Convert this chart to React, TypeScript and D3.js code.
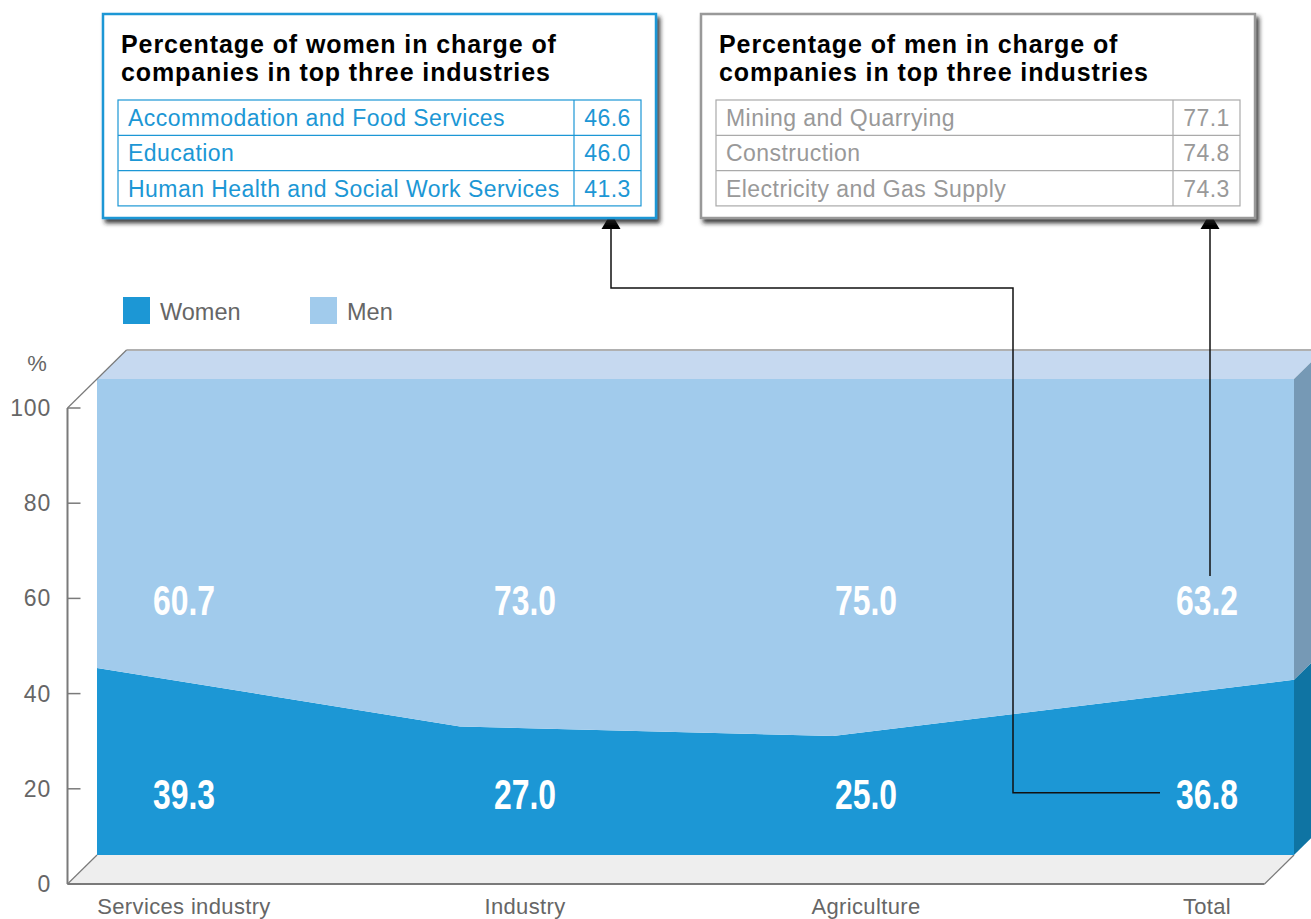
import React from "react";
import * as d3 from "d3";

const categories = ["Services industry", "Industry", "Agriculture", "Total"];
const women = [39.3, 27.0, 25.0, 36.8];
const men = [60.7, 73.0, 75.0, 63.2];
const yTicks = [0, 20, 40, 60, 80, 100];
const seriesNames = ["Women", "Men"];

const womenIndustries = [
  "Accommodation and Food Services",
  "Education",
  "Human Health and Social Work Services",
];
const womenIndustryValues = ["46.6", "46.0", "41.3"];
const menIndustries = [
  "Mining and Quarrying",
  "Construction",
  "Electricity and Gas Supply",
];
const menIndustryValues = ["77.1", "74.8", "74.3"];

const W = 1311;
const H = 919;
const C_WOMEN = "#1c97d5";
const C_MEN = "#a1cbec";
const C_TOP = "#c6d9f0";
const C_SIDE_MEN = "#7699b5";
const C_SIDE_WOMEN = "#0f74a3";
const C_FLOOR = "#eeeeee";
const C_AXIS = "#7a7a7a";
const FONT = "'Liberation Sans', Arial, Helvetica, sans-serif";

function InfoBox({ x, y, w, h, title, names, values, border, text, tableBorder }) {
  const tx = x + 15;
  const tw = w - 30;
  const top = y + 86;
  const rowH = 35.3;
  const sepX = tx + tw - 67;
  return (
    <g>
      <rect x={x} y={y} width={w} height={h} fill="#fff" stroke={border} strokeWidth={2.5} filter="url(#shadow)" />
      {title.map((t, i) => (
        <text key={t} x={tx + 3} y={y + 39 + 28 * i} fontFamily={FONT} fontWeight="bold" fontSize={25} letterSpacing={0.9} fill="#000">
          {t}
        </text>
      ))}
      <rect x={tx} y={top} width={tw} height={rowH * names.length} fill="none" stroke={tableBorder} strokeWidth={1.2} />
      {names.map((n, i) => (
        <g key={n}>
          {i > 0 && (
            <line x1={tx} x2={tx + tw} y1={top + rowH * i} y2={top + rowH * i} stroke={tableBorder} strokeWidth={1.2} />
          )}
          <text x={tx + 10} y={top + rowH * i + 26} fontFamily={FONT} fontSize={23} letterSpacing={0.45} fill={text}>
            {n}
          </text>
          <text x={(sepX + tx + tw) / 2} y={top + rowH * i + 26} textAnchor="middle" fontFamily={FONT} fontSize={23} letterSpacing={0.45} fill={text}>
            {values[i]}
          </text>
        </g>
      ))}
      <line x1={sepX} x2={sepX} y1={top} y2={top + rowH * names.length} stroke={tableBorder} strokeWidth={1.2} />
    </g>
  );
}

function Arrow({ d, tipX, tipY }) {
  return (
    <g>
      <path d={d} fill="none" stroke="#111" strokeWidth={1.5} />
      <polygon points={`${tipX},${tipY} ${tipX - 9.5},${tipY + 16} ${tipX + 9.5},${tipY + 16}`} fill="#000" />
    </g>
  );
}

export default function App() {
  const dx = 29.5;
  const dy = -29;
  const y = d3.scaleLinear().domain([0, 100]).range([884, 408]);
  const yb = (v: number) => y(v) + dy;
  const xArea = d3.scaleLinear().domain([0, 1, 2, 3]).range([97, 460, 833, 1294]);
  const xLab = d3.scalePoint<string>().domain(categories).range([184, 1207]);
  const idx = categories.map((_, i) => i);

  const womenArea = d3
    .area<number>()
    .x((i) => xArea(i))
    .y0(() => yb(0))
    .y1((i) => yb(women[i]))(idx);
  const menArea = d3
    .area<number>()
    .x((i) => xArea(i))
    .y0((i) => yb(women[i]))
    .y1((i) => yb(women[i] + men[i]))(idx);

  const last = categories.length - 1;
  const xr = xArea(last);
  const wTop = yb(women[last]);
  const mTop = yb(women[last] + men[last]);
  const xl = xArea(0);
  const axisX = xl - dx;
  const floorRight = xr - dx;

  const legendX = d3.scalePoint<string>().domain(seriesNames).range([123, 310]);

  const valueLabel = (x: number, yy: number, v: number, key: string) => (
    <text
      key={key}
      transform={`translate(${x},${yy}) scale(0.76,1)`}
      textAnchor="middle"
      fontFamily={FONT}
      fontWeight="bold"
      fontSize={42}
      fill="#fff"
    >
      {v.toFixed(1)}
    </text>
  );

  return (
    <svg width={W} height={H} style={{ position: "absolute", left: 0, top: 0 }} xmlns="http://www.w3.org/2000/svg">
      <defs>
        <filter id="shadow" x="-5%" y="-5%" width="115%" height="120%">
          <feDropShadow dx={3} dy={4} stdDeviation={2} floodColor="#222" floodOpacity={0.85} />
        </filter>
      </defs>
      <rect width={W} height={H} fill="#fff" />

      {/* floor */}
      <polygon
        points={`${axisX},${y(0)} ${floorRight},${y(0)} ${xr},${yb(0)} ${xl},${yb(0)}`}
        fill={C_FLOOR}
      />
      <line x1={axisX} x2={floorRight} y1={y(0)} y2={y(0)} stroke={C_AXIS} strokeWidth={2} />
      <line x1={floorRight} x2={xr} y1={y(0)} y2={yb(0)} stroke={C_AXIS} strokeWidth={1.2} />
      <line x1={axisX} x2={xl} y1={y(0)} y2={yb(0)} stroke={C_AXIS} strokeWidth={1.2} />

      {/* areas */}
      <path d={womenArea ?? ""} fill={C_WOMEN} />
      <path d={menArea ?? ""} fill={C_MEN} />

      {/* top face */}
      <polygon points={`${xl},${yb(100)} ${xl + dx},${yb(100) + dy} ${xr + dx},${yb(100) + dy} ${xr},${yb(100)}`} fill={C_TOP} />
      <line x1={xl + dx} x2={xr + dx} y1={yb(100) + dy} y2={yb(100) + dy} stroke="#b0b0b0" strokeWidth={2} />
      {/* right side face */}
      <polygon points={`${xr},${yb(0)} ${xr + dx},${yb(0) + dy} ${xr + dx},${wTop + dy} ${xr},${wTop}`} fill={C_SIDE_WOMEN} />
      <polygon points={`${xr},${wTop} ${xr + dx},${wTop + dy} ${xr + dx},${mTop + dy} ${xr},${mTop}`} fill={C_SIDE_MEN} />

      {/* axis */}
      <line x1={axisX} x2={axisX} y1={y(100)} y2={y(0)} stroke={C_AXIS} strokeWidth={2} />
      <line x1={axisX} x2={xl + dx} y1={y(100)} y2={yb(100) + dy} stroke={C_AXIS} strokeWidth={1.2} />
      {yTicks.map((t) => (
        <g key={t}>
          <line x1={axisX} x2={axisX + 13} y1={y(t)} y2={y(t)} stroke={C_AXIS} strokeWidth={1.5} />
          <text x={51} y={y(t) + 8} textAnchor="end" fontFamily={FONT} fontSize={23} letterSpacing={0.8} fill="#666">
            {t}
          </text>
        </g>
      ))}
      <text x={37} y={371} textAnchor="middle" fontFamily={FONT} fontSize={22} fill="#666">
        %
      </text>

      {/* category labels */}
      {categories.map((c) => (
        <text key={c} x={xLab(c)} y={914} textAnchor="middle" fontFamily={FONT} fontSize={22} letterSpacing={0.35} fill="#666">
          {c}
        </text>
      ))}

      {/* value labels */}
      {categories.map((c, i) => (
        <g key={c}>
          {valueLabel(xLab(c) ?? 0, y(20) + 20, women[i], "w")}
          {valueLabel(xLab(c) ?? 0, y(60) + 17, men[i], "m")}
        </g>
      ))}

      {/* legend */}
      {seriesNames.map((s, i) => (
        <g key={s}>
          <rect x={legendX(s)} y={297} width={27} height={27} fill={i === 0 ? C_WOMEN : C_MEN} />
          <text x={(legendX(s) ?? 0) + 37} y={320} fontFamily={FONT} fontSize={23.5} fill="#666">
            {s}
          </text>
        </g>
      ))}

      {/* connector lines */}
      <Arrow d={`M1160,${y(20) + 4} H1013 V288 H611 V229`} tipX={611} tipY={213} />
      <Arrow d={`M1210,576 V229`} tipX={1210} tipY={213} />

      {/* info boxes */}
      <InfoBox
        x={103}
        y={14}
        w={553}
        h={204}
        title={["Percentage of women in charge of", "companies in top three industries"]}
        names={womenIndustries}
        values={womenIndustryValues}
        border={C_WOMEN}
        text={C_WOMEN}
        tableBorder={C_WOMEN}
      />
      <InfoBox
        x={701}
        y={14}
        w={554}
        h={204}
        title={["Percentage of men in charge of", "companies in top three industries"]}
        names={menIndustries}
        values={menIndustryValues}
        border="#999"
        text="#999"
        tableBorder="#aaa"
      />
    </svg>
  );
}
